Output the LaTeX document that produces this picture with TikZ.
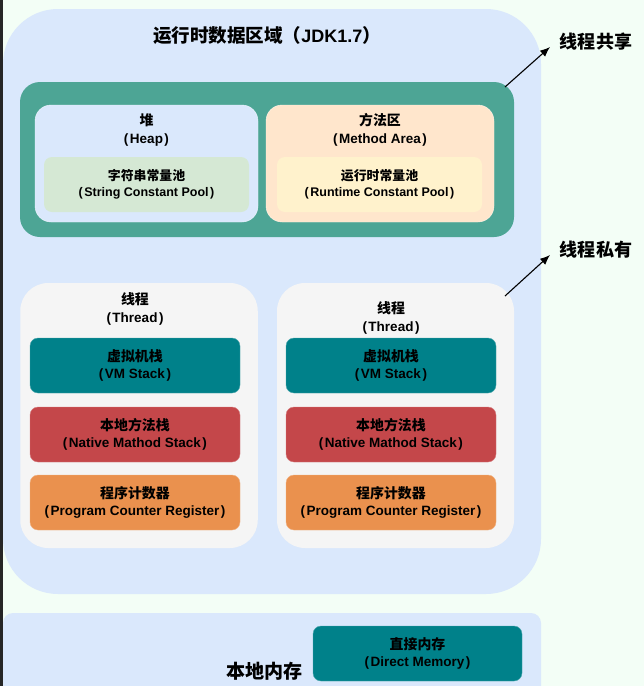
\documentclass[tikz,border=0pt]{standalone}
\usepackage{fontspec}
\setmainfont{Liberation Sans}
\newfontfamily\zh{Noto Sans CJK SC}[Scale=1.03]
\usetikzlibrary{
    arrows.meta,
    positioning,
}
\definecolor{pagebg}{HTML}{F3FEF6}
\definecolor{areablue}{HTML}{DAE8FC}
\definecolor{sharedgreen}{HTML}{4DA595}
\definecolor{methodorange}{HTML}{FFE6CC}
\definecolor{poolgreen}{HTML}{D5E8D4}
\definecolor{poolyellow}{HTML}{FFF2CC}
\definecolor{threadgray}{HTML}{F5F5F5}
\definecolor{vmteal}{HTML}{00818A}
\definecolor{nativered}{HTML}{C4474A}
\definecolor{pcorange}{HTML}{EA914E}
% english name in brackets
\newcommand{\ename}[1]{(\kern1.5pt#1\kern1.5pt)}

\begin{document}
\begin{tikzpicture}[x=1pt, y=-1pt,
        region/.style={rounded corners=#1, inner sep=0pt},
        slab/.style={rounded corners=8pt, inner sep=0pt, minimum width=210pt,
            minimum height=55pt, align=center, font=\bfseries\fontsize{13.5}{17.5}\selectfont},
        head/.style={align=center, font=\bfseries\fontsize{13.5}{18}\selectfont},
        pool/.style={slab, minimum width=205pt, font=\bfseries\fontsize{12.5}{16}\selectfont},
        note/.style={font=\bfseries\fontsize{17.5}{19}\selectfont},
        share/.style={-{Latex[length=10pt,width=8pt]}, line width=1.1pt},
    ]
        \useasboundingbox (0,0) rectangle (644,686);
        \fill[pagebg] (0,0) rectangle (644,686);
        \fill[black!85] (0,0) rectangle (2.5,686);

        % runtime data area
        \node[region=55pt, fill=areablue, minimum width=538pt, minimum height=585pt] (runtime) at (272,301.5) {};
        \node[font=\bfseries\fontsize{18}{20}\selectfont] (title) at (267,36) {\zh 运行时数据区域（{\rmfamily JDK1.7}）};

        % shared part
        \node[region=20pt, fill=sharedgreen, minimum width=494pt, minimum height=155pt] (shared) at (267,159.5) {};
        \node[region=16pt, fill=areablue, draw=white!60!areablue, minimum width=223pt, minimum height=117pt] (heap) at (146.5,163.5) {};
        \node[region=16pt, fill=methodorange, draw=white!60!methodorange, minimum width=228pt, minimum height=117pt] (method) at (380,163.5) {};
        \node[head] (heaplbl) at (146.5,130) {{\zh 堆}\\\ename{Heap}};
        \node[head] (methodlbl) at (380,130) {{\zh 方法区}\\\ename{Method Area}};
        \node[pool, fill=poolgreen] (strpool) at (146.5,184.5) {{\zh 字符串常量池}\\\ename{String Constant Pool}};
        \node[pool, fill=poolyellow] (rtpool) at (379.5,184.5) {{\zh 运行时常量池}\\\ename{Runtime Constant Pool}};

        % thread private part
        \node[region=28pt, fill=threadgray, minimum width=237.5pt, minimum height=265pt] (threadA) at (139,415.5) {};
        \node[region=28pt, fill=threadgray, minimum width=237pt, minimum height=265pt] (threadB) at (395.5,415.5) {};
        \node[head] (threadAlbl) at (135,309) {{\zh 线程}\\\ename{Thread}};
        \node[head] (threadBlbl) at (391,318) {{\zh 线程}\\\ename{Thread}};
        \foreach \t/\x in {A/135, B/391} {
            \node[slab, fill=vmteal, draw=vmteal!70!white] (vm\t) at (\x,365.5) {{\zh 虚拟机栈}\\\ename{VM Stack}};
            \node[slab, fill=nativered, draw=nativered!70!white] (native\t) at (\x,434.5) {{\zh 本地方法栈}\\\ename{Native Mathod Stack}};
            \node[slab, fill=pcorange, draw=pcorange!70!white] (pc\t) at (\x,502.5) {{\zh 程序计数器}\\\ename{Program Counter Register}};
        }

        % native memory
        \node[region=10pt, fill=areablue, minimum width=538pt, minimum height=87pt] (native) at (272,656.5) {};
        \node[slab, fill=vmteal, draw=vmteal!70!white, minimum width=209pt] (direct) at (417.5,653.5) {{\zh 直接内存}\\\ename{Direct Memory}};
        \node[note, font=\bfseries\fontsize{18.5}{20}\selectfont, left=9pt of direct.south west, anchor=south east, inner sep=1pt] (nativelbl) {\zh 本地内存};

        % labels on the right
        \node[note] (sharedlbl) at (596,42) {\zh 线程共享};
        \node[note] (privatelbl) at (596,250) {\zh 线程私有};
        \coordinate (sharedfrom) at (505,87);
        \coordinate (sharedto) at (550,47);
        \coordinate (privatefrom) at (505,296);
        \coordinate (privateto) at (550,255);
        \draw[share] (sharedfrom) -- (sharedto);
        \draw[share] (privatefrom) -- (privateto);
    \end{tikzpicture}
\end{document}
